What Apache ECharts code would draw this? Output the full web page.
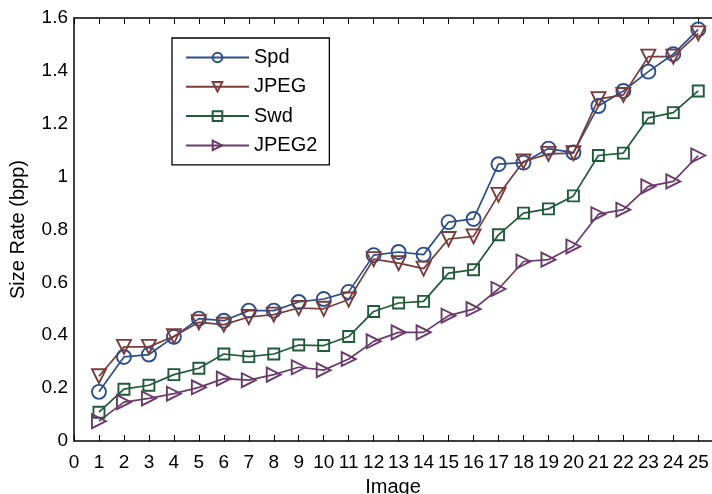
<!DOCTYPE html>
<html>
<head>
<meta charset="utf-8">
<script src="https://cdn.jsdelivr.net/npm/echarts@6/dist/echarts.min.js"></script>
<style>
html,body{margin:0;padding:0;background:#fff;}
#c{width:712px;height:494px;}
</style>
</head>
<body>
<div id="c"></div>
<script>
const images = [1,2,3,4,5,6,7,8,9,10,11,12,13,14,15,16,17,18,19,20,21,22,23,24,25];
const spd   = [0.186,0.318,0.327,0.394,0.463,0.455,0.493,0.493,0.526,0.537,0.564,0.703,0.715,0.705,0.828,0.840,1.047,1.053,1.106,1.091,1.267,1.324,1.397,1.463,1.557];
const jpeg  = [0.245,0.356,0.356,0.396,0.449,0.440,0.469,0.478,0.503,0.500,0.535,0.688,0.673,0.652,0.764,0.774,0.931,1.057,1.086,1.089,1.293,1.309,1.454,1.454,1.542];
const swd   = [0.109,0.196,0.211,0.251,0.275,0.329,0.319,0.329,0.363,0.361,0.395,0.490,0.522,0.528,0.635,0.648,0.780,0.862,0.878,0.927,1.080,1.089,1.222,1.242,1.324];
const jpeg2 = [0.075,0.147,0.161,0.179,0.203,0.236,0.230,0.251,0.279,0.268,0.310,0.377,0.411,0.411,0.474,0.499,0.575,0.679,0.686,0.736,0.858,0.875,0.963,0.982,1.080];
const seriesNames = ['Spd','JPEG','Swd','JPEG2'];
const colors = ['#2d4e8e','#7a3c3a','#1f5a3a','#6a3a6a'];

const pair = arr => images.map((x,i)=>[x,arr[i]]);
const FONT = 'Liberation Sans, Arial, sans-serif';

function mk(name, data, color, symbol, size, rotate){
  return {
    name, type:'line', data: pair(data), symbol, symbolSize:size, symbolRotate:rotate,
    lineStyle:{color, width:1.7}, itemStyle:{color:'rgba(255,255,255,0)', borderColor:color, borderWidth:1.9},
    color, showAllSymbol:true, animation:false, z:2
  };
}

const chart = echarts.init(document.getElementById('c'), null, {renderer:'canvas'});
chart.setOption({
  animation:false,
  backgroundColor:'#fff',
  grid:{left:74, top:18, right:0, bottom:53, containLabel:false, outerBoundsMode:'none'},
  legend:{
    orient:'vertical', left:172, top:38,
    padding:[9.5,12,9.5,13], itemGap:9.3, itemWidth:63, itemHeight:12,
    borderColor:'#000', borderWidth:1.3, backgroundColor:'#fff',
    textStyle:{fontFamily:FONT, fontSize:20, color:'#000'},
    data: seriesNames
  },
  xAxis:[{
    type:'value', min:0, max:25.55, interval:1, position:'bottom',
    name:'Image', nameLocation:'middle', nameGap:36,
    nameTextStyle:{fontFamily:FONT, fontSize:20, color:'#000'},
    axisLine:{show:true, onZero:false, lineStyle:{color:'#000', width:1.5}},
    axisTick:{show:true, inside:true, length:6, lineStyle:{color:'#000', width:1}},
    axisLabel:{fontFamily:FONT, fontSize:19, color:'#000', margin:12, showMaxLabel:false},
    splitLine:{show:false}
  },{
    type:'value', min:0, max:25.55, interval:1, position:'top',
    axisLine:{show:true, onZero:false, lineStyle:{color:'#000', width:1.5}},
    axisTick:{show:true, inside:true, length:6, lineStyle:{color:'#000', width:1}},
    axisLabel:{show:false}, splitLine:{show:false}
  }],
  yAxis:{
    type:'value', min:0, max:1.6, interval:0.2,
    name:'Size Rate (bpp)', nameLocation:'middle', nameGap:46, nameRotate:90,
    nameTextStyle:{fontFamily:FONT, fontSize:20, color:'#000'},
    axisLine:{show:true, onZero:false, lineStyle:{color:'#000', width:1.5}},
    axisTick:{show:false},
    axisLabel:{fontFamily:FONT, fontSize:19, color:'#000', margin:6},
    splitLine:{show:false}
  },
  series:[
    mk('Spd', spd, colors[0], 'circle', 14, 0),
    mk('JPEG', jpeg, colors[1], 'triangle', 14, 180),
    mk('Swd', swd, colors[2], 'rect', 11, 0),
    mk('JPEG2', jpeg2, colors[3], 'triangle', 14, -90)
  ]
});
</script>
</body>
</html>
